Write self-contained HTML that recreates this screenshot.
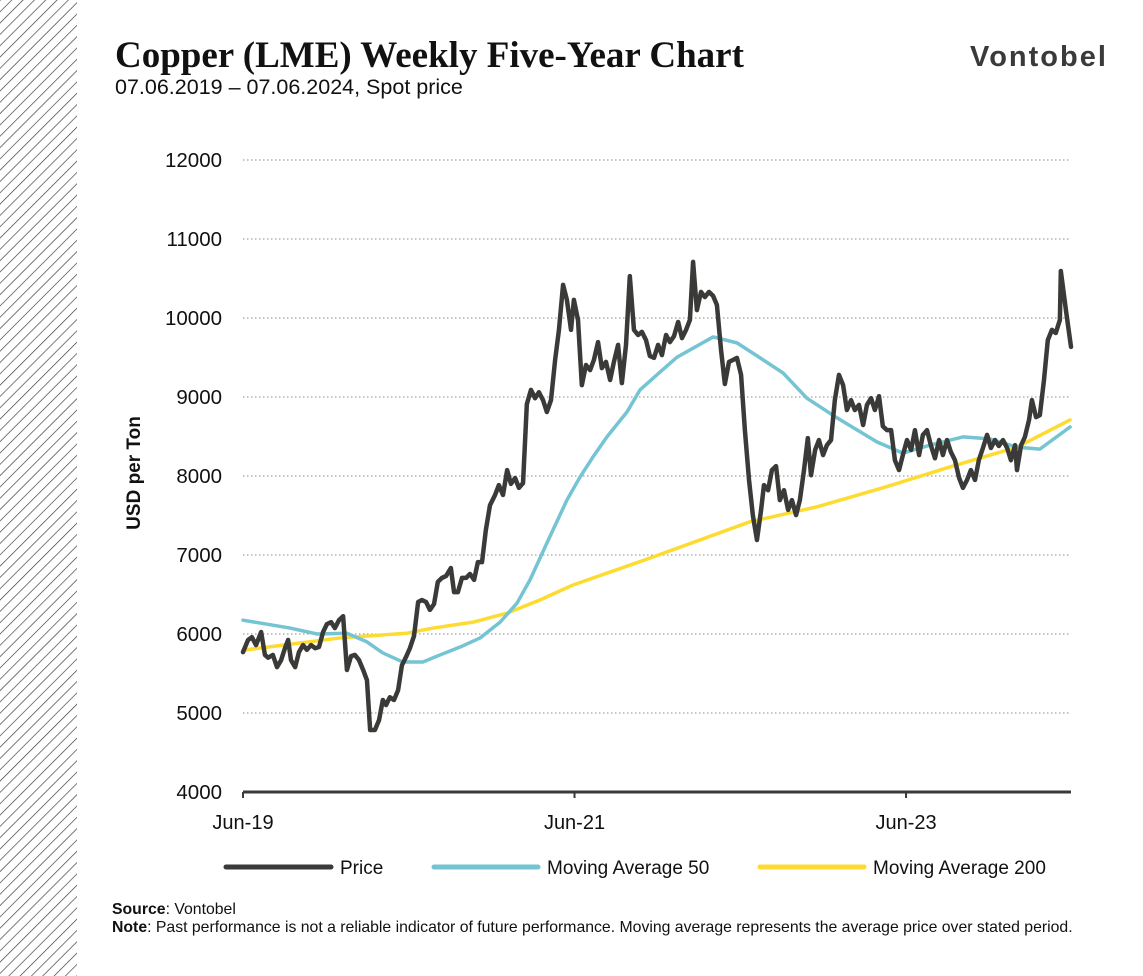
<!DOCTYPE html>
<html><head><meta charset="utf-8"><style>
body{margin:0;width:1143px;height:976px;background:#fff;overflow:hidden;font-family:"Liberation Sans",sans-serif;position:relative}
.abs{position:absolute;white-space:nowrap}
</style></head><body>
<svg class="abs" style="left:0;top:0" width="78" height="976">
<defs><pattern id="h" width="8" height="8" patternUnits="userSpaceOnUse" patternTransform="rotate(45)"><line x1="0" y1="0" x2="0" y2="8" stroke="#333" stroke-width="1.3"/></pattern></defs>
<rect width="77" height="976" fill="url(#h)"/></svg>
<div class="abs" style="left:115px;top:34px;font-family:'Liberation Serif',serif;font-weight:bold;font-size:37px;color:#111">Copper (LME) Weekly Five-Year Chart</div>
<div class="abs" style="left:115px;top:75px;font-size:21.5px;color:#111">07.06.2019 – 07.06.2024, Spot price</div>
<div class="abs" style="left:970px;top:41px;font-size:29px;font-weight:bold;letter-spacing:2px;color:#3a3a3a">Vontobel</div>
<svg class="abs" id="chart" style="left:0;top:0" width="1143" height="976"></svg>
<div class="abs" style="left:112px;top:901px;font-size:15.8px;color:#111"><b>Source</b>: Vontobel</div>
<div class="abs" style="left:112px;top:919px;font-size:15.8px;color:#111"><b>Note</b>: Past performance is not a reliable indicator of future performance. Moving average represents the average price over stated period.</div>
<script>
const yTicks=[4000,5000,6000,7000,8000,9000,10000,11000,12000];
const xTickLabels=["Jun-19","Jun-21","Jun-23"];
const xTickWeeks=[0,104.3,208.6];
const priceWeeks=[0,1.6,2.8,4.1,5.7,6.9,7.9,9.4,10.7,12.0,13.2,14.2,15.1,16.4,17.6,18.9,20.1,21.4,22.7,23.9,25.2,26.4,27.7,28.9,30.2,31.5,32.7,34.0,35.2,36.5,37.8,39.0,40.0,41.5,42.8,44.0,45.0,46.2,47.5,48.8,50.0,51.3,52.5,53.8,55.1,56.3,57.6,58.8,60.1,61.3,62.6,63.9,65.4,66.4,67.6,68.9,70.2,71.4,72.7,73.9,75.2,76.4,77.7,79.3,80.5,81.8,83.1,84.3,85.6,86.8,88.1,89.3,90.6,91.9,93.1,94.4,95.6,96.9,98.2,99.4,100.7,101.9,103.2,104.1,105.4,106.6,107.9,109.2,110.4,111.7,112.9,114.2,115.5,116.7,118.0,119.2,120.5,121.7,123.0,124.3,125.5,126.8,128.0,129.3,130.6,131.8,133.1,134.3,135.6,136.9,138.1,139.4,140.6,141.6,142.8,144.1,145.3,146.6,147.9,149.1,150.4,151.6,152.9,154.2,155.4,156.7,157.9,159.2,160.4,161.7,163.0,163.9,165.2,166.4,167.7,168.9,170.2,171.5,172.7,174.0,175.2,176.5,177.7,178.7,180.0,181.2,182.5,183.7,185.0,186.2,187.5,188.8,190.0,191.3,192.5,193.8,195.1,196.3,197.6,198.8,200.1,201.3,202.6,203.9,205.1,206.4,207.6,208.9,210.2,211.4,212.7,213.9,215.2,216.4,217.7,219.0,220.2,221.5,222.7,224.0,225.3,226.5,227.8,229.0,230.3,231.5,232.8,234.1,235.3,236.6,237.8,239.1,240.4,241.6,242.9,243.5,244.8,246.0,247.3,248.2,249.5,250.7,252.0,253.2,254.5,255.7,257.0,257.3,258.9,260.5];
const priceValues=[5770,5925,5960,5860,6025,5735,5700,5735,5580,5670,5820,5925,5670,5580,5770,5860,5800,5860,5820,5835,6025,6125,6150,6075,6175,6225,5545,5720,5735,5670,5545,5415,4785,4785,4910,5165,5100,5200,5165,5290,5605,5710,5820,5975,6405,6430,6405,6305,6380,6660,6710,6735,6835,6530,6530,6710,6710,6760,6685,6910,6910,7315,7630,7760,7885,7760,8075,7900,7975,7850,7910,8910,9090,8985,9060,8960,8810,8960,9470,9850,10420,10230,9850,10230,9975,9150,9405,9340,9470,9695,9365,9445,9215,9445,9660,9175,9660,10530,9850,9785,9825,9720,9520,9495,9660,9530,9785,9695,9770,9950,9745,9850,9975,10710,10100,10330,10265,10330,10280,10165,9595,9165,9445,9470,9495,9280,8580,7950,7505,7190,7570,7885,7820,8075,8125,7695,7820,7570,7695,7505,7695,8075,8480,8010,8330,8455,8265,8390,8455,8960,9280,9150,8835,8960,8835,8900,8645,8900,8985,8835,9010,8630,8580,8580,8200,8075,8265,8455,8330,8580,8265,8520,8580,8390,8225,8455,8265,8455,8305,8200,7975,7850,7950,8075,7950,8200,8355,8520,8355,8455,8380,8455,8355,8200,8390,8075,8390,8495,8710,8960,8745,8770,9215,9720,9850,9810,9975,10595,10100,9635];
const ma50Weeks=[0,14.8,23.3,32.7,39.0,44.0,50.3,56.6,62.0,68.3,74.6,80.9,86.2,90.3,95.6,101.9,106.0,110.1,114.5,120.8,124.9,131.2,136.6,147.9,155.4,162.7,169.9,177.4,186.9,199.5,207.6,216.1,226.5,235.0,243.5,250.7,260.2];
const ma50Values=[6175,6075,6000,6010,5900,5760,5645,5645,5735,5835,5950,6150,6390,6685,7150,7695,7985,8240,8495,8810,9090,9315,9505,9760,9685,9495,9305,8985,8735,8430,8290,8390,8495,8470,8365,8340,8620];
const ma200Weeks=[0,30.5,51.6,59.8,72.4,83.1,93.4,103.8,128.0,159.5,180.6,201.3,222.4,243.5,260.2];
const ma200Values=[5795,5950,6010,6075,6150,6265,6430,6620,6960,7420,7610,7850,8115,8365,8710];

const X0=243,X1=1071,W0=0,W1=260.5,Y0=792,Y1=160,V0=4000,V1=12000;
const xs=w=>X0+(w-W0)/(W1-W0)*(X1-X0);
const ys=v=>Y0-(v-V0)/(V1-V0)*(Y0-Y1);
const svg=document.getElementById('chart');
const NS='http://www.w3.org/2000/svg';
function mk(t,a){const e=document.createElementNS(NS,t);for(const k in a)e.setAttribute(k,a[k]);svg.appendChild(e);return e;}
yTicks.forEach(v=>{
  if(v>V0){const g=mk('line',{x1:X0,x2:X1,y1:ys(v),y2:ys(v),stroke:'#888','stroke-width':1,'stroke-dasharray':'1.5,2.5'});
  
  }
  const t=mk('text',{x:222,y:ys(v)+7,'text-anchor':'end','font-size':20.5,fill:'#111','font-family':'Liberation Sans'});
  t.textContent=v;
  
  
});
const ax=mk('line',{x1:X0,x2:X1,y1:Y0,y2:Y0,stroke:'#3a3a3a','stroke-width':3});


xTickWeeks.forEach((w,i)=>{
  const tk=mk('line',{x1:xs(w),x2:xs(w),y1:Y0,y2:Y0+6,stroke:'#3a3a3a','stroke-width':2});
  
  
  const t=mk('text',{x:xs(w),y:Y0+37,'text-anchor':'middle','font-size':20,fill:'#111','font-family':'Liberation Sans'});
  t.textContent=xTickLabels[i];
  
  
});
const yt=mk('text',{x:0,y:0,transform:'translate(140,473) rotate(-90)','text-anchor':'middle','font-size':19,'font-weight':'bold',fill:'#111','font-family':'Liberation Sans'});
yt.textContent='USD per Ton';


function line(ws,vs,col,wd,name){
  const p=mk('polyline',{points:ws.map((w,i)=>xs(w)+','+ys(vs[i])).join(' '),fill:'none',stroke:col,'stroke-width':wd,'stroke-linejoin':'round','stroke-linecap':'round'});
  
  
}
line(ma200Weeks,ma200Values,'#fedb30',3.5,'ma200-line');
line(ma50Weeks,ma50Values,'#74c4d3',3.5,'ma50-line');
line(priceWeeks,priceValues,'#3a3a38',4.5,'price-line');
const leg=[['Price','#3a3a38',226,331,340],['Moving Average 50','#74c4d3',434,538,547],['Moving Average 200','#fedb30',760,864,873]];
leg.forEach(l=>{
  const s=mk('line',{x1:l[2],x2:l[3],y1:867,y2:867,stroke:l[1],'stroke-width':5,'stroke-linecap':'round'});
  
  
  const t=mk('text',{x:l[4],y:874,'font-size':19,fill:'#111','font-family':'Liberation Sans'});
  t.textContent=l[0];
  
  
});
</script>
</body></html>
